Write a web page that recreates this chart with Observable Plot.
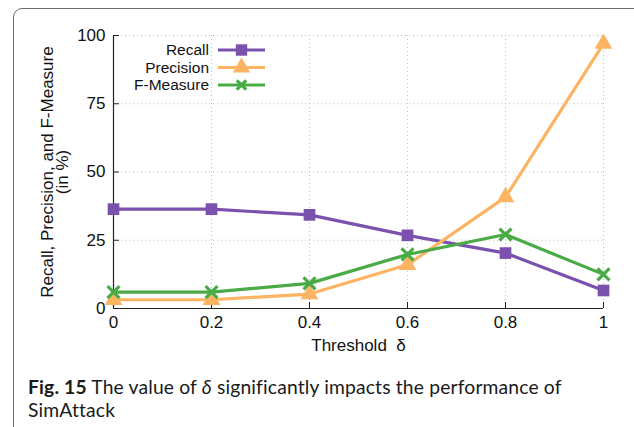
<!DOCTYPE html>
<html>
<head>
<meta charset="utf-8">
<script src="https://cdn.jsdelivr.net/npm/d3@7"></script>
<script src="https://cdn.jsdelivr.net/npm/@observablehq/plot@0.6"></script>
<style>
  html, body { margin: 0; padding: 0; background: #fff; overflow: hidden; }
  #wrap { position: relative; width: 634px; height: 427px; overflow: hidden; }
  #frame { position: absolute; left: 13px; top: 8px; width: 720px; height: 520px;
           border: 1.5px solid #6e6e6e; border-radius: 9px; box-sizing: border-box; }
  #chart { position: absolute; left: 0; top: 0; }
  #chart svg, #chart svg text { font-family: "Liberation Sans", Arial, Helvetica, sans-serif !important; }
  .cap { position: absolute; left: 28px; white-space: nowrap;
         font-family: Lato, "Open Sans", sans-serif; font-size: 19.3px;
         line-height: 23px; color: #1a1a1a; letter-spacing: 0.16px; }
  .cap b { font-weight: 700; }
</style>
</head>
<body>
<div id="wrap">
  <div id="frame"></div>
  <div id="chart"></div>
  <div class="cap" id="cap1" style="top:375px"><b>Fig. 15</b> The value of <i>δ</i> significantly impacts the performance of</div>
  <div class="cap" id="cap2" style="top:398.3px">SimAttack</div>
</div>
<script>
const thresholds = [0, 0.2, 0.4, 0.6, 0.8, 1];
const recall     = [36.4, 36.4, 34.3, 26.8, 20.3, 6.6];
const precision  = [3.2, 3.2, 5.3, 16.0, 40.8, 97.0];
const fmeasure   = [6.0, 6.0, 9.2, 19.8, 27.1, 12.5];
const seriesNames = ["Recall", "Precision", "F-Measure"];
const seriesColors = ["#7a52ae", "#fdb462", "#4aab46"];
const seriesSymbols = ["square", "triangle", "times"];
const xTicks = [0, 0.2, 0.4, 0.6, 0.8, 1];
const xTickLabels = ["0", "0.2", "0.4", "0.6", "0.8", "1"];
const yTicks = [0, 25, 50, 75, 100];

const valuesBySeries = [recall, precision, fmeasure];
const data = [];
seriesNames.forEach((s, i) => thresholds.forEach((t, j) => data.push({series: s, x: t, y: valuesBySeries[i][j]})));

const font = "Liberation Sans, Arial, sans-serif";
const fs = 17;

const marks = [
  Plot.gridX(xTicks, {stroke: "#bbb", strokeOpacity: 1, strokeDasharray: "1,3"}),
  Plot.gridY(yTicks, {stroke: "#bbb", strokeOpacity: 1, strokeDasharray: "1,3"}),
  Plot.axisX(xTicks, {tickSize: -6, tickPadding: 13, tickFormat: (d, i) => xTickLabels[i], fontSize: fs, label: null, stroke: "#222", fill: "#111"}),
  Plot.axisY(yTicks, {tickSize: -6, tickPadding: 14, fontSize: fs, label: null, stroke: "#222", fill: "#111"}),
  Plot.ruleX([0], {stroke: "#222", strokeWidth: 1.2}),
  Plot.ruleY([0], {stroke: "#222", strokeWidth: 1.2}),
];
seriesNames.forEach((s, i) => {
  const d = data.filter(r => r.series === s);
  marks.push(Plot.line(d, {x: "x", y: "y", stroke: seriesColors[i], strokeWidth: 3.2}));
  if (seriesSymbols[i] === "times") {
    marks.push(Plot.dot(d, {x: "x", y: "y", symbol: "times", r: 5.5, stroke: seriesColors[i], strokeWidth: 3.2}));
  } else {
    marks.push(Plot.dot(d, {x: "x", y: "y", symbol: seriesSymbols[i], r: 6.6, fill: seriesColors[i], stroke: "none"}));
  }
});
marks.push(Plot.text(["Recall, Precision, and F-Measure\n(in %)"], {
  frameAnchor: "left", textAnchor: "middle", lineAnchor: "middle", rotate: -90, dx: -58, fontSize: fs, lineHeight: 0.9, fill: "#111"
}));
marks.push(Plot.text(["Threshold  δ"], {
  frameAnchor: "bottom", dy: 42, fontSize: fs, fill: "#111"
}));

const chart = Plot.plot({
  width: 634,
  height: 362,
  marginLeft: 113,
  marginRight: 31,
  marginTop: 35,
  marginBottom: 54,
  style: {fontFamily: font, fontSize: fs + "px", color: "#111", background: "transparent", overflow: "visible"},
  x: {domain: [0, 1]},
  y: {domain: [0, 100]},
  marks
});
document.getElementById("chart").appendChild(chart);

// legend (inside the top-left of the plot frame)
const svg = d3.select(chart);
const lg = svg.append("g").attr("font-family", font).attr("font-size", 15.5);
const rowY = [50, 67.5, 85];
seriesNames.forEach((s, i) => {
  const y = rowY[i];
  lg.append("text").attr("x", 209).attr("y", y).attr("dy", "0.35em").attr("text-anchor", "end").attr("fill", "#111").text(s);
  lg.append("line").attr("x1", 218).attr("x2", 265).attr("y1", y).attr("y2", y)
    .attr("stroke", seriesColors[i]).attr("stroke-width", 3.2);
  const sym = d3.symbol().type(
    seriesSymbols[i] === "square" ? d3.symbolSquare :
    seriesSymbols[i] === "triangle" ? d3.symbolTriangle : d3.symbolTimes
  ).size(seriesSymbols[i] === "times" ? 60 : 130);
  const p = lg.append("path").attr("d", sym()).attr("transform", `translate(241.5,${y})`);
  if (seriesSymbols[i] === "times") p.attr("fill", "none").attr("stroke", seriesColors[i]).attr("stroke-width", 3.2);
  else p.attr("fill", seriesColors[i]);
});
</script>
</body>
</html>
